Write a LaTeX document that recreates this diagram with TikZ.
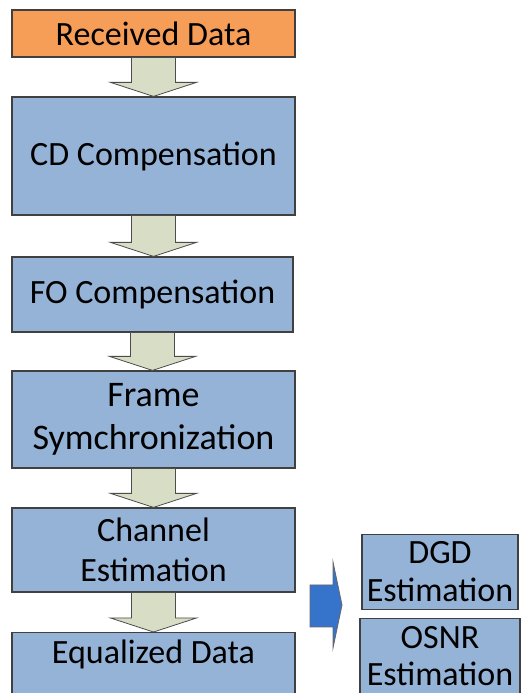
\documentclass[tikz,border=0pt]{standalone}
\usepackage{fontspec}
\setmainfont{Carlito}
\usetikzlibrary{calc}

\definecolor{boxblue}{RGB}{149,179,215}
\definecolor{boxorange}{RGB}{246,157,87}
\definecolor{arrowgreen}{RGB}{216,222,198}
\definecolor{arrowblue}{RGB}{54,116,204}

\tikzset{
  stage/.style={draw=black!75, line width=1.2pt, fill=boxblue, align=center,
    inner sep=0pt, font=\fontsize{34}{40}\selectfont},
  flow/.style={draw=black!70, line width=0.8pt, fill=arrowgreen},
}

% block arrow from the bottom of one box to the top of the next
\newcommand{\flowdown}[2]{%
  \draw[flow] let \p1=(#1.south), \p2=(#2.north) in
    (\x1-22pt,\y1) -- (\x1+22pt,\y1) -- (\x1+22pt,\y2+14pt) -- (\x1+43pt,\y2+14pt)
    -- (\x1,\y2) -- (\x1-43pt,\y2+14pt) -- (\x1-22pt,\y2+14pt) -- cycle;}

\begin{document}
\begin{tikzpicture}[x=1pt, y=1pt]

\clip (0,0) rectangle (521,693);
\fill[white] (0,0) rectangle (521,693);

\node[stage, fill=boxorange, minimum width=283, minimum height=47] (recv) at (153.5,659.5) {Received Data};
\node[stage, minimum width=283, minimum height=118] (cd) at (153.5,537) {CD Compensation};
\node[stage, minimum width=281, minimum height=75] (fo) at (152.5,398.5) {FO Compensation};
\node[stage, minimum width=283, minimum height=97, font=\fontsize{36}{43}\selectfont] (frame) at (153.5,273.5) {Frame\\Symchronization};
\node[stage, minimum width=283, minimum height=84] (chan) at (153.5,143) {Channel\\Estimation};
\node[stage, anchor=north, minimum width=283, inner ysep=8pt, text height=23pt, text depth=40pt] (eq) at (153.5,61) {Equalized Data};

\node[stage, minimum width=156, minimum height=75, font=\fontsize{34}{38}\selectfont] (dgd) at (440,121) {DGD\\Estimation};
\node[stage, anchor=north, minimum width=160, inner ysep=8pt, font=\fontsize{34}{37}\selectfont] (osnr) at (440,75) {OSNR\\Estimation};

\flowdown{recv}{cd}
\flowdown{cd}{fo}
\flowdown{fo}{frame}
\flowdown{frame}{chan}
\flowdown{chan}{eq}

% blue arrow towards the estimation boxes
\draw[draw=black!60, line width=0.8pt, fill=arrowblue]
  (310,108) -- (333,108) -- (333,131) -- (342,88) -- (333,45) -- (333,66) -- (310,66) -- cycle;

\end{tikzpicture}
\end{document}
